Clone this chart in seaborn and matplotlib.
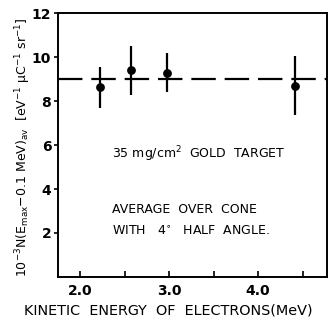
import matplotlib
matplotlib.use("Agg")
import matplotlib.pyplot as plt
import seaborn as sns
import pandas as pd
from matplotlib.ticker import MultipleLocator

sns.set_theme(style="white")
plt.rcParams['font.family'] = ['DejaVu Sans']
plt.rcParams['mathtext.default'] = 'regular'

energy = [2.22, 2.57, 2.98, 4.42]
intensity = [8.62, 9.41, 9.30, 8.71]
err = [0.92, 1.12, 0.87, 1.36]
mean_level = 9.0
x_ticks = [2.0, 3.0, 4.0]
x_tick_labels = ["2.0", "3.0", "4.0"]
y_ticks = [2, 4, 6, 8, 10, 12]
y_tick_labels = ["2", "4", "6", "8", "10", "12"]

df = pd.DataFrame({"energy": energy, "intensity": intensity, "err": err})

fig = plt.figure(figsize=(3.29, 3.22), dpi=100)
ax = fig.add_axes([0.177, 0.140, 0.817, 0.819])

ax.axhline(mean_level, color="black", lw=1.6, dashes=(11, 4), zorder=1)
ax.errorbar(df["energy"], df["intensity"], yerr=df["err"], fmt="none",
            ecolor="black", elinewidth=1.6, capsize=0, zorder=2)
sns.scatterplot(data=df, x="energy", y="intensity", ax=ax, color="black",
                s=40, edgecolor="black", linewidth=0, zorder=3, legend=False)

ax.set_xlim(1.755, 4.775)
ax.set_ylim(0, 12)
ax.set_xticks(x_ticks)
ax.set_xticklabels(x_tick_labels)
ax.xaxis.set_minor_locator(MultipleLocator(0.5))
ax.set_yticks(y_ticks)
ax.set_yticklabels(y_tick_labels)

ax.tick_params(axis="x", which="both", direction="in", length=4, width=1.2,
               bottom=True, labelsize=10, pad=5, colors="black")
ax.tick_params(axis="y", which="both", direction="out", length=3, width=1.2,
               left=True, labelsize=10, pad=2, colors="black")
for lab in ax.get_xticklabels() + ax.get_yticklabels():
    lab.set_fontweight("semibold")

for sp in ax.spines.values():
    sp.set_visible(True)
    sp.set_color("black")
    sp.set_linewidth(1.4)

ax.set_xlabel("KINETIC  ENERGY  OF  ELECTRONS(MeV)", fontsize=10.4,
              color="black")
ax.xaxis.set_label_coords(0.41, -0.1)
ax.set_ylabel(r"10$^{-3}$N(E$_{max}$$-$0.1 MeV)$_{av}$  [eV$^{-1}$ $\mu$C$^{-1}$ sr$^{-1}$]",
              fontsize=9, color="black")
ax.yaxis.set_label_coords(-0.093, 0.49)

txt_kw = dict(transform=ax.transAxes, fontsize=9, color="black", ha="left",
              va="center")
ax.text(0.20, 0.465, r"35 mg/cm$^{2}$  GOLD  TARGET", **txt_kw)
ax.text(0.20, 0.255, "AVERAGE  OVER  CONE", **txt_kw)
ax.text(0.20, 0.172, r"WITH   4$^{\circ}$   HALF  ANGLE.", **txt_kw)

fig.savefig("out.png", dpi=100)
